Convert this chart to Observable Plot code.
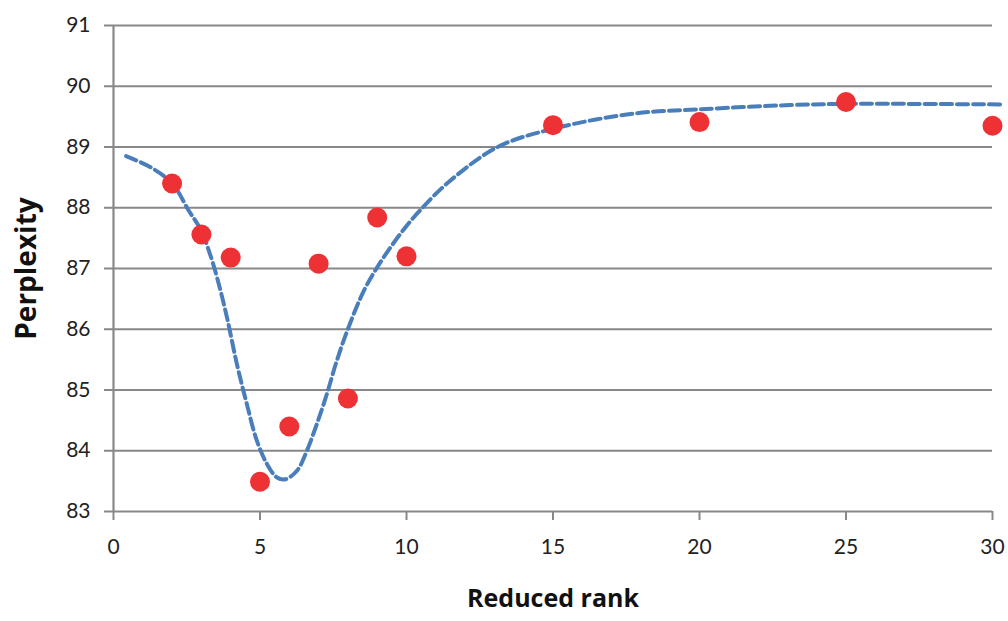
<!DOCTYPE html>
<html>
<head>
<meta charset="utf-8">
<script src="https://cdn.jsdelivr.net/npm/d3@7"></script>
<script src="https://cdn.jsdelivr.net/npm/@observablehq/plot@0.6"></script>
<style>
  html, body { margin: 0; padding: 0; background: #fff; }
  #chart svg { display: block; }
</style>
</head>
<body>
<div id="chart"></div>
<script>
const ranks = [2, 3, 4, 5, 6, 7, 8, 9, 10, 15, 20, 25, 30];
const perplexity = [88.40, 87.56, 87.18, 83.49, 84.40, 87.08, 84.86, 87.84, 87.20, 89.36, 89.41, 89.74, 89.35];

const curveX = [0.43, 1.25, 2.0, 2.56, 3.0, 3.25, 3.53, 3.87, 4.21, 4.55, 4.89, 5.24, 5.58, 5.86, 6.26, 6.60, 6.94, 7.28, 7.62, 8.02, 8.53, 9.0, 9.5, 10.0, 10.47, 11.43, 13.11, 15.0, 17.76, 20.0, 23.09, 25.0, 27.0, 30.4];
const curveY = [88.85, 88.67, 88.40, 87.96, 87.62, 87.30, 86.86, 86.20, 85.43, 84.77, 84.17, 83.78, 83.56, 83.53, 83.67, 84.00, 84.44, 84.93, 85.48, 86.03, 86.62, 87.02, 87.38, 87.70, 87.96, 88.42, 89.00, 89.30, 89.55, 89.62, 89.69, 89.71, 89.71, 89.70];

const xTicks = [0, 5, 10, 15, 20, 25, 30];
const yTicks = [83, 84, 85, 86, 87, 88, 89, 90, 91];

const points = ranks.map((r, i) => ({rank: r, value: perplexity[i]}));
const curve = curveX.map((x, i) => ({x, y: curveY[i]}));

const gray = "#888888";
const font = "Lato, 'Open Sans', sans-serif";
const titleFont = "'Open Sans', Lato, sans-serif";

const chart = Plot.plot({
  width: 1008,
  height: 621,
  marginLeft: 113,
  marginRight: 16,
  marginTop: 25,
  marginBottom: 110,
  style: {fontFamily: font, background: "#fff", color: "#222"},
  x: {domain: [0, 30]},
  y: {domain: [83, 91]},
  marks: [
    Plot.gridY(yTicks.filter(d => d !== 83), {stroke: gray, strokeOpacity: 1, strokeWidth: 2.2}),
    Plot.ruleY([83], {stroke: gray, strokeWidth: 2.2}),
    Plot.ruleX([0], {stroke: gray, strokeWidth: 2.2}),
    Plot.axisY(yTicks, {tickSize: 9, tickPadding: 14, stroke: gray, strokeWidth: 2, fill: "#222", fontSize: 21, tickFormat: "d", label: null}),
    Plot.axisX(xTicks, {tickSize: 9, tickPadding: 19, stroke: gray, strokeWidth: 2, fill: "#222", fontSize: 21, tickFormat: "d", label: null}),
    Plot.line(curve, {x: "x", y: "y", stroke: "#4a7ebb", strokeWidth: 4, strokeDasharray: "11,5", curve: "catmull-rom"}),
    Plot.dot(points, {x: "rank", y: "value", r: 10, fill: "#ee3135", stroke: "none"}),
    Plot.text(["Perplexity"], {frameAnchor: "left", textAnchor: "middle", dx: -86, rotate: -90, fontSize: 28, fontWeight: "bold", fontFamily: titleFont, fill: "#111"}),
    Plot.text(["Reduced rank"], {frameAnchor: "bottom", textAnchor: "middle", dy: 95, fontSize: 25, fontWeight: "bold", fontFamily: titleFont, fill: "#111"})
  ]
});
document.getElementById("chart").appendChild(chart);
</script>
</body>
</html>
